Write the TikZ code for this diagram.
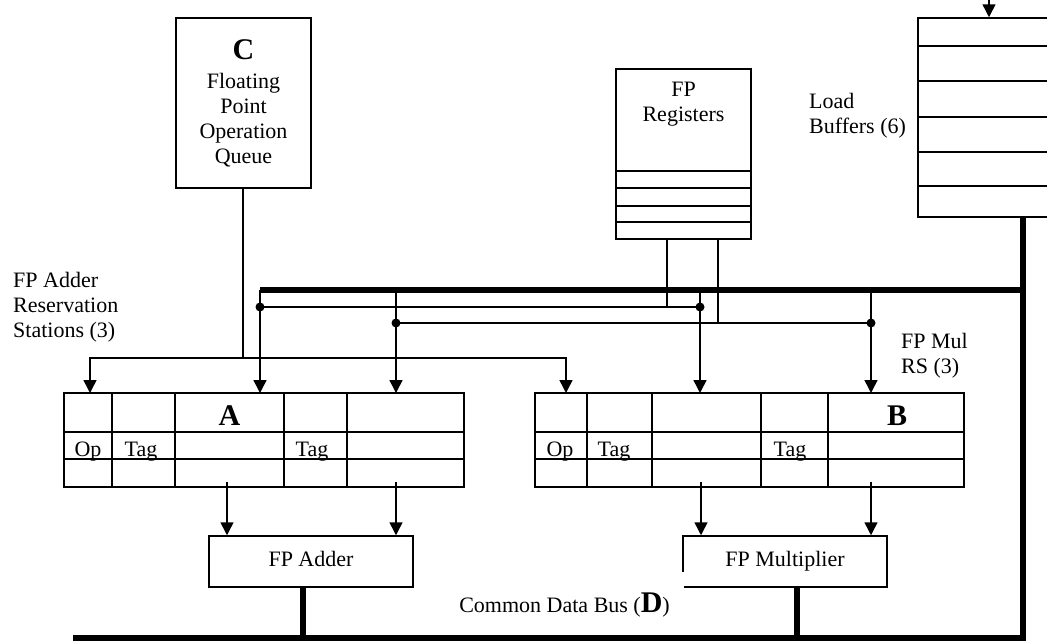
\documentclass[tikz,border=0pt]{standalone}
\usepackage{fontspec}
\setmainfont{Liberation Serif}
\usetikzlibrary{arrows.meta, positioning}
\newcommand{\txtsz}{\fontsize{22pt}{25pt}\selectfont}
\newcommand{\bigsz}{\fontsize{30pt}{34pt}\selectfont\bfseries}

\begin{document}
\begin{tikzpicture}[
  x=1pt, y=-1pt,
  box/.style={rectangle, draw, line width=1.5pt, inner sep=0pt, align=center, font=\txtsz},
  wire/.style={line width=1.5pt},
  arrow/.style={-{Triangle[width=13pt, length=13pt]}, line width=1.5pt},
  bus/.style={line width=6pt},
  dot/.style={circle, fill, inner sep=0pt, minimum size=9pt},
  cell/.style={anchor=base, inner sep=0pt, font=\txtsz},
  lbl/.style={anchor=north west, inner sep=0pt, align=left, font=\txtsz}
]
\useasboundingbox (0,0) rectangle (1047,640);
\clip (0,0) rectangle (1047,640);

% instruction queue, registers, load buffers
\node[box, minimum width=135pt, minimum height=170pt] (queue) at (243.5,103)
  {{\bigsz C}\\[4pt]Floating\\Point\\Operation\\Queue};
\node[box, minimum width=135pt, minimum height=170pt] (fpregs) at (683.5,154) {};
\node[inner sep=0pt, align=center, font=\txtsz, below=14pt of fpregs.north] (fpregstxt) {FP\\Registers};
\foreach \y in {171,188,206,222}
  \draw[wire] (fpregs.west |- 0,\y) -- (fpregs.east |- 0,\y);
\node[box, minimum width=142pt, minimum height=199pt] (ldbuf) at (989,117.5) {};
\foreach \y in {46,81,117,152,186}
  \draw[wire] (ldbuf.west |- 0,\y) -- (ldbuf.east |- 0,\y);

% labels
\node[lbl] (addlbl) at (13,272) {FP Adder\\Reservation\\Stations (3)};
\node[lbl] (ldlbl) at (809,93) {Load\\Buffers (6)};
\node[lbl] (mullbl) at (901,333) {FP Mul\\RS (3)};

% reservation stations
\node[box, minimum width=400pt, minimum height=94pt] (addrs) at (264,440) {};
\foreach \y in {432,459}
  \draw[wire] (addrs.west |- 0,\y) -- (addrs.east |- 0,\y);
\foreach \x in {112,175,284,347}
  \draw[wire] (addrs.north -| \x,0) -- (addrs.south -| \x,0);
\node[cell] (opA) at (88,456) {Op};
\node[cell] (tagA1) at (141,456) {Tag};
\node[cell] (tagA2) at (312,456) {Tag};
\node[cell, font=\bigsz] (nameA) at (229.5,425) {A};

\node[box, minimum width=429pt, minimum height=94pt] (mulrs) at (749.5,440) {};
\foreach \y in {432,459}
  \draw[wire] (mulrs.west |- 0,\y) -- (mulrs.east |- 0,\y);
\foreach \x in {587,652,761,828}
  \draw[wire] (mulrs.north -| \x,0) -- (mulrs.south -| \x,0);
\node[cell] (opM) at (560,456) {Op};
\node[cell] (tagM1) at (614,456) {Tag};
\node[cell] (tagM2) at (790,456) {Tag};
\node[cell, font=\bigsz] (nameB) at (897,425) {B};

% functional units
\node[box, minimum width=204pt, minimum height=51pt, text height=15pt, text depth=5pt] (adder) at (311,561.5) {FP Adder};
\node[box, minimum width=204pt, minimum height=51pt, text height=15pt, text depth=5pt] (mult) at (785,561.5) {FP Multiplier};
\node[font=\txtsz, fill=white, inner xsep=14pt, inner ysep=20pt, anchor=base east] (cdblbl) at (684,612)
  {Common Data Bus ({\bigsz D})};

% connection points
\coordinate (qjoin) at (243,358);
\coordinate (tA0) at (90,393);
\coordinate (tM0) at (566,393);
\coordinate (busL) at (260,290);
\coordinate (busR) at (1023,290);
\coordinate (tA1) at (260,393);
\coordinate (tA2) at (396,393);
\coordinate (tM1) at (700,393);
\coordinate (tM2) at (871,393);
\coordinate (rL) at (667,307);
\coordinate (rR) at (718,323);
\coordinate (sA1) at (227,482);
\coordinate (sA2) at (396,482);
\coordinate (sM1) at (701,482);
\coordinate (sM2) at (871,482);
\coordinate (cdbL) at (73,638);
\coordinate (cdbA) at (303,638);
\coordinate (cdbM) at (797,638);
\coordinate (cdbR) at (1023,638);
\coordinate (ldin) at (989,-2);
\node[dot] (jA1) at (260,307) {};
\node[dot] (jA2) at (396,323) {};
\node[dot] (jM1) at (700,307) {};
\node[dot] (jM2) at (871,323) {};

% queue to stations
\draw[wire] (queue.south -| qjoin) -- (qjoin);
\draw[arrow] (qjoin) -| (tA0);
\draw[arrow] (qjoin) -| (tM0);

% operand bus
\draw[bus] (busL) -- (busR);
\draw[arrow] (busL) -- (tA1);
\draw[arrow] (tA2 |- busL) -- (tA2);
\draw[arrow] (tM1 |- busL) -- (tM1);
\draw[arrow] (tM2 |- busL) -- (tM2);
\draw[wire] (jA1.center) -- (jM1.center);
\draw[wire] (jA2.center) -- (jM2.center);
\draw[wire] (fpregs.south -| rL) -- (rL);
\draw[wire] (fpregs.south -| rR) -- (rR);

% stations to units
\draw[arrow] (sA1) -- (adder.north -| sA1);
\draw[arrow] (sA2) -- (adder.north -| sA2);
\draw[arrow] (sM1) -- (mult.north -| sM1);
\draw[arrow] (sM2) -- (mult.north -| sM2);

% common data bus
\draw[arrow] (ldin) -- (ldbuf.north);
\draw[bus] (ldbuf.south -| busR) -- (cdbR) -- (cdbL);
\draw[bus] (adder.south -| cdbA) -- (cdbA);
\draw[bus] (mult.south -| cdbM) -- (cdbM);
\end{tikzpicture}
\end{document}
